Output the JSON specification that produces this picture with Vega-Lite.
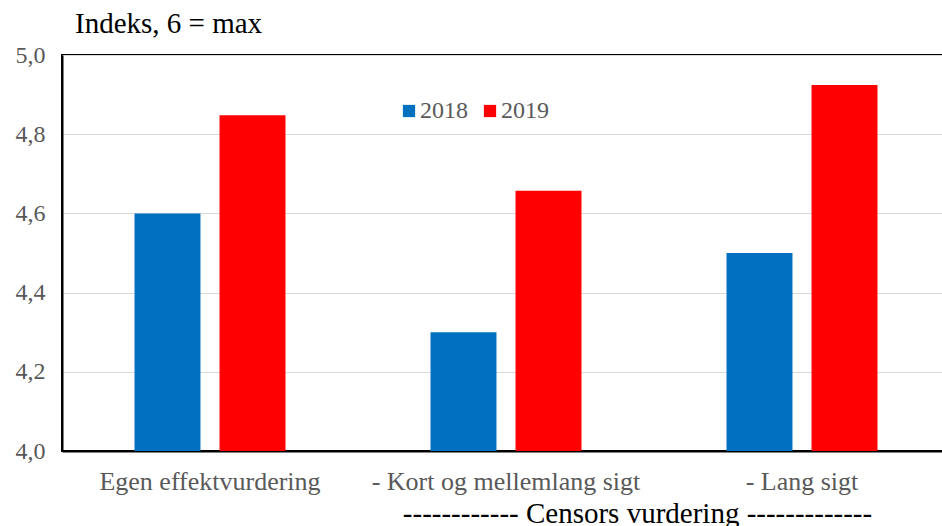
{
  "$schema": "https://vega.github.io/schema/vega-lite/v6.json",
  "width": 888,
  "height": 396,
  "autosize": {"type": "none"},
  "padding": {"left": 62, "top": 55, "right": 0, "bottom": 75},
  "background": "white",
  "title": {
    "text": "Indeks, 6 = max",
    "anchor": "start",
    "frame": "group",
    "dx": 13,
    "offset": 4,
    "font": "Liberation Serif",
    "fontSize": 29,
    "fontWeight": "normal",
    "color": "#000000"
  },
  "config": {
    "view": {"stroke": "#000000", "strokeWidth": 2},
    "font": "Liberation Serif"
  },
  "data": {
    "values": [
      {"cat": "Egen effektvurdering", "year": "2018", "value": 4.6},
      {"cat": "Egen effektvurdering", "year": "2019", "value": 4.848},
      {"cat": "- Kort og mellemlang sigt", "year": "2018", "value": 4.3},
      {"cat": "- Kort og mellemlang sigt", "year": "2019", "value": 4.657},
      {"cat": "- Lang sigt", "year": "2018", "value": 4.5},
      {"cat": "- Lang sigt", "year": "2019", "value": 4.924}
    ]
  },
  "mark": {"type": "bar", "clip": true},
  "encoding": {
    "x": {
      "field": "cat",
      "type": "nominal",
      "sort": null,
      "scale": {"paddingInner": 0.49, "paddingOuter": 0.245},
      "axis": {
        "title": "------------ Censors vurdering -------------",
        "titleX": 575,
        "titleY": 71,
        "titleBaseline": "alphabetic",
        "titleFont": "Liberation Serif",
        "titleFontSize": 29,
        "titleFontWeight": "normal",
        "titleColor": "#000000",
        "labelFont": "Liberation Serif",
        "labelFontSize": 26,
        "labelColor": "#595959",
        "labelAngle": 0,
        "labelPadding": 17,
        "labelLimit": 0,
        "ticks": false,
        "domainColor": "#000000",
        "domainWidth": 2
      }
    },
    "xOffset": {
      "field": "year",
      "type": "nominal",
      "scale": {"paddingInner": 0.224, "paddingOuter": 0}
    },
    "y": {
      "field": "value",
      "type": "quantitative",
      "scale": {"domain": [4.0, 5.0], "nice": false, "zero": false},
      "axis": {
        "title": null,
        "values": [4.0, 4.2, 4.4, 4.6, 4.8, 5.0],
        "labelExpr": "replace(format(datum.value, '.1f'), '.', ',')",
        "labelFont": "Liberation Serif",
        "labelFontSize": 24,
        "labelColor": "#595959",
        "labelPadding": 17,
        "ticks": false,
        "domainColor": "#000000",
        "domainWidth": 2,
        "gridColor": "#d9d9d9",
        "gridWidth": 1
      }
    },
    "color": {
      "field": "year",
      "type": "nominal",
      "scale": {"domain": ["2018", "2019"], "range": ["#0070C0", "#FF0000"]},
      "legend": {
        "title": null,
        "orient": "none",
        "legendX": 335,
        "legendY": 44,
        "direction": "horizontal",
        "symbolType": "square",
        "symbolSize": 150,
        "symbolStrokeWidth": 0,
        "labelFont": "Liberation Serif",
        "labelFontSize": 24,
        "labelColor": "#595959",
        "labelOffset": -1,
        "columnPadding": 10
      }
    }
  }
}
